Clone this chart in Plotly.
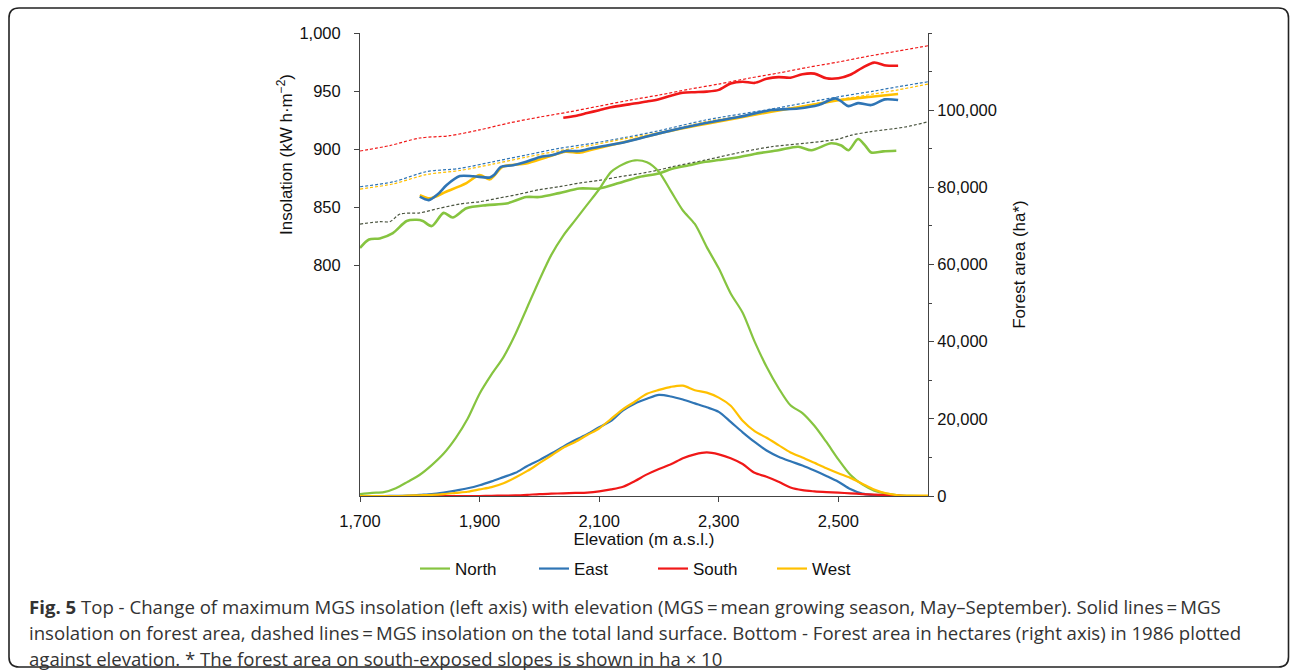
import plotly.graph_objects as go

# ---------------- data ----------------
# Insolation (left axis), solid = forest area, dashed = total land surface
north_ins_x = [1700, 1715, 1733, 1755, 1778, 1795, 1805, 1820, 1840, 1855, 1878, 1912, 1945, 1978, 2000,
               2033, 2067, 2100, 2133, 2167, 2200, 2222, 2250, 2278, 2300, 2333, 2362, 2400, 2433, 2455,
               2488, 2505, 2517, 2533, 2545, 2555, 2575, 2597]
north_ins_y = [814.7, 822, 823, 827.6, 838, 839, 838, 833.6, 845, 841, 849, 851.7, 853, 858.6, 858.6,
               862, 866, 866, 870.7, 876, 879, 883, 886, 889, 890.5, 893, 896, 899, 902, 899,
               905, 903, 899, 908.6, 903, 897, 898, 898.5]

east_ins_x = [1800, 1815, 1830, 1845, 1867, 1890, 1917, 1925, 1935, 1956, 1978, 2000, 2022, 2044, 2067,
              2089, 2144, 2200, 2278, 2333, 2388, 2433, 2467, 2495, 2505, 2517, 2533, 2555, 2578, 2600]
east_ins_y = [858.9, 856, 861, 869, 876.7, 876.5, 875.5, 878, 884.5, 886, 889, 893, 894.8, 898.3, 898.3,
              900.9, 906, 913.5, 922.4, 927.6, 933.6, 935, 938, 943.7, 941, 937, 939.6, 937.9, 942.8, 942.2]

south_ins_x = [2040, 2060, 2080, 2100, 2120, 2150, 2180, 2200, 2220, 2240, 2260, 2280, 2300, 2320, 2340,
               2360, 2380, 2400, 2420, 2440, 2460, 2480, 2500, 2520, 2540, 2560, 2580, 2600]
south_ins_y = [927, 928.5, 931, 933.5, 936, 938.5, 941, 943, 946, 948.5, 949, 949.5, 951, 956.5, 958,
               957, 960.5, 962, 961.5, 964.5, 965, 961, 961, 964, 970, 974.5, 972, 971.8]

west_ins_x = [1800, 1817, 1844, 1878, 1900, 1917, 1939, 1978, 2011, 2044, 2067, 2089, 2144, 2200, 2278,
              2388, 2450, 2500, 2555, 2600]
west_ins_y = [860.3, 857.5, 863.2, 870.7, 877.6, 873.9, 884.8, 887.6, 892.8, 897.7, 896.8, 899.7, 906.3,
              913.5, 921.6, 932.2, 937.5, 942, 945.1, 947.4]

north_tot_x = [1700, 1733, 1750, 1767, 1800, 1833, 1867, 1900, 1933, 1967, 2000, 2033, 2067, 2100, 2133,
               2167, 2200, 2222, 2278, 2333, 2388, 2445, 2500, 2522, 2555, 2612, 2650]
north_tot_y = [835.3, 837.4, 837.4, 844, 845, 849, 852.6, 854.6, 857.8, 861.2, 865, 867.5, 870.7, 873, 876,
               878.7, 882, 884.7, 890.5, 896.8, 902, 905, 908.6, 912, 915, 919, 923.5]

east_tot_x = [1700, 1756, 1811, 1867, 1922, 1978, 2033, 2089, 2144, 2200, 2278, 2388, 2500, 2560, 2600, 2650]
east_tot_y = [867.5, 871.8, 880.5, 883.3, 889, 894.8, 900.6, 904.9, 910, 915.8, 925, 934.5, 945, 950,
              953.7, 958]

south_tot_x = [1700, 1750, 1800, 1850, 1900, 1950, 2000, 2050, 2100, 2150, 2200, 2250, 2300, 2350, 2400,
               2450, 2500, 2550, 2600, 2650]
south_tot_y = [898.3, 903, 909.5, 911.5, 916.5, 922.5, 927.5, 932, 937, 942, 946.5, 951.5, 956, 961,
               965.5, 970.5, 975, 980, 984.5, 989]

west_tot_x = [1700, 1756, 1811, 1867, 1922, 1978, 2033, 2089, 2144, 2200, 2278, 2388, 2500, 2560, 2600, 2650]
west_tot_y = [865.5, 870, 878, 881.5, 887, 893, 898.5, 903.5, 909, 914, 923.5, 932.5, 942.5, 947.5, 951, 956]

# Forest area (right axis), ha (south in ha x 10)
area_x = [1700, 1720, 1740, 1760, 1780, 1800, 1820, 1840, 1860, 1880, 1900, 1920, 1940, 1960, 1980,
          2000, 2020, 2040, 2060, 2080, 2100, 2120, 2140, 2160, 2180, 2200, 2220, 2240, 2260, 2280,
          2300, 2320, 2340, 2360, 2380, 2400, 2420, 2440, 2460, 2480, 2500, 2520, 2540, 2560, 2580,
          2600, 2620, 2640, 2650]
north_area = [500, 800, 1000, 2000, 3700, 5500, 8000, 11000, 15000, 20000, 26500, 31500, 36000, 42000, 49000,
              56000, 62500, 67500, 71500, 75500, 79500, 84000, 86000, 87000, 86500, 84000, 79000, 74000, 70500, 64500,
              59000, 52500, 47500, 40000, 33500, 28000, 23500, 21500, 18200, 14000, 9500, 5500, 3000, 1400, 600,
              200, 50, 0, 0]
east_area = [0, 0, 0, 50, 100, 300, 500, 900, 1400, 2000, 2800, 3800, 4900, 6000, 7800,
             9300, 11000, 12800, 14500, 16000, 17800, 19500, 22200, 24000, 25200, 26200, 25800, 25000, 24000, 23000,
             21800, 19200, 16500, 14000, 11800, 10200, 9000, 7900, 6600, 5200, 3700, 1800, 600, 200, 50,
             0, 0, 0, 0]
south_area = [0, 0, 0, 0, 0, 0, 0, 0, 0, 0, 0, 50, 100, 150, 300,
              500, 600, 700, 800, 900, 1200, 1700, 2400, 3900, 5600, 7000, 8200, 9800, 10800, 11300,
              10800, 9800, 8300, 6000, 5000, 3700, 2200, 1500, 1200, 1000, 850, 700, 500, 350, 200,
              100, 0, 0, 0]
west_area = [0, 0, 0, 0, 100, 200, 300, 500, 800, 1100, 1700, 2300, 3300, 4800, 6500,
             8500, 10500, 12500, 14000, 15800, 17500, 20000, 22500, 24500, 26500, 27500, 28300, 28600, 27400, 26800,
             25500, 23400, 19500, 16800, 15100, 13200, 11300, 10000, 8600, 7200, 5900, 4700, 3200, 1700, 700,
             200, 100, 100, 100]

x_ticks = [1700, 1900, 2100, 2300, 2500]
x_labels = ["1,700", "1,900", "2,100", "2,300", "2,500"]
y_ticks = [800, 850, 900, 950, 1000]
y_labels = ["800", "850", "900", "950", "1,000"]
y2_ticks = [0, 20000, 40000, 60000, 80000, 100000]
y2_labels = ["0", "20,000", "40,000", "60,000", "80,000", "100,000"]

names = ["North", "East", "South", "West"]
colors = {"North": "#86C440", "East": "#2F75B5", "South": "#F01818", "West": "#FFC000"}
dash_colors = {"North": "#4B5540", "East": "#2F75B5", "South": "#F01818", "West": "#FFC000"}

caption_lines = [
    "<b>Fig. 5</b> Top - Change of maximum MGS insolation (left axis) with elevation (MGS\u2009=\u2009mean growing season, May\u2013September). Solid lines\u2009=\u2009MGS",
    "insolation on forest area, dashed lines\u2009=\u2009MGS insolation on the total land surface. Bottom - Forest area in hectares (right axis) in 1986 plotted",
    "against elevation. * The forest area on south-exposed slopes is shown in ha \u00d7 10",
]

# ---------------- layout geometry (pixels) ----------------
W, H = 1290, 672
L, R, T, B = 360, 928, 33, 496


def px(x):
    return (x - L) / (R - L)


def py(y):
    return (B - y) / (B - T)


fig = go.Figure()

tot = {"North": (north_tot_x, north_tot_y), "East": (east_tot_x, east_tot_y),
       "South": (south_tot_x, south_tot_y), "West": (west_tot_x, west_tot_y)}
ins = {"North": (north_ins_x, north_ins_y), "East": (east_ins_x, east_ins_y),
       "South": (south_ins_x, south_ins_y), "West": (west_ins_x, west_ins_y)}
area = {"North": north_area, "East": east_area, "South": south_area, "West": west_area}

for n in ["South", "East", "West", "North"]:
    xs, ys = tot[n]
    fig.add_trace(go.Scatter(x=xs, y=ys, mode="lines", showlegend=False,
                             line=dict(color=dash_colors[n], width=1.2, dash="3px,2px", shape="spline", smoothing=0.8),
                             hoverinfo="skip"))

for n in names:
    fig.add_trace(go.Scatter(x=area_x, y=area[n], mode="lines", name=n, yaxis="y2", legendgroup=n,
                             line=dict(color=colors[n], width=2.2, shape="spline", smoothing=0.8)))

for n in ["North", "West", "East", "South"]:
    xs, ys = ins[n]
    fig.add_trace(go.Scatter(x=xs, y=ys, mode="lines", showlegend=False, legendgroup=n,
                             line=dict(color=colors[n], width=2.6, shape="spline", smoothing=0.8)))

axis_font = dict(family="Liberation Sans, Arial, sans-serif", size=16.5, color="#111")

fig.update_layout(
    width=W, height=H,
    margin=dict(l=L, r=W - R, t=T, b=H - B, pad=0),
    paper_bgcolor="white", plot_bgcolor="white",
    font=dict(family="Liberation Sans, Arial, sans-serif", size=17, color="#111"),
    xaxis=dict(range=[1700, 2650], tickvals=x_ticks, ticktext=x_labels, showgrid=False, zeroline=False,
               showline=True, linecolor="#444", linewidth=1, ticks="outside", ticklen=5, tickcolor="#444",
               tickfont=axis_font, ticklabelstandoff=5,
               title=dict(text="Elevation (m a.s.l.)", font=dict(size=17, color="#111"), standoff=4)),
    yaxis=dict(range=[601, 1000], tickvals=y_ticks, ticktext=y_labels, showgrid=False, zeroline=False,
               showline=True, linecolor="#444", linewidth=1, ticks="outside", ticklen=5, tickcolor="#444",
               tickfont=axis_font, ticklabelstandoff=10),
    yaxis2=dict(range=[0, 120000], overlaying="y", side="right", tickvals=y2_ticks, ticktext=y2_labels,
                tickprefix="\u2007", showgrid=False, zeroline=False, showline=True, linecolor="#444", linewidth=1,
                ticks="outside", ticklen=5, tickcolor="#444", tickfont=axis_font,
                minor=dict(dtick=10000, ticks="outside", ticklen=3, tickcolor="#444", showgrid=False),
                title=dict(text="Forest area (ha*)", font=dict(size=17, color="#111"), standoff=17)),
    legend=dict(orientation="h", x=px(415), y=py(569), xanchor="left", yanchor="middle",
                font=dict(size=17, color="#111"), entrywidth=74, entrywidthmode="pixels",
                bgcolor="rgba(0,0,0,0)"),
    showlegend=True,
)

# left axis title
fig.add_annotation(text="Insolation (kW h\u00b7m<sup>\u22122</sup>)", textangle=-90, x=px(285), y=py(155),
                   xref="paper", yref="paper", showarrow=False, font=dict(size=17, color="#111"),
                   xanchor="center", yanchor="middle")

# caption
cap_y = [606, 632, 658]
for txt, yy in zip(caption_lines, cap_y):
    fig.add_annotation(text=txt, x=px(27), y=py(yy), xref="paper", yref="paper", showarrow=False,
                       xanchor="left", yanchor="middle", align="left",
                       font=dict(family="Open Sans, Noto Sans, sans-serif", size=18.6, color="#333"))

# rounded frame
x0, y0, x1, y1, r = 9, 8, 1288.5, 667, 10
path = (f"M {px(x0)},{py(y0 + r)} Q {px(x0)},{py(y0)} {px(x0 + r)},{py(y0)} "
        f"L {px(x1 - r)},{py(y0)} Q {px(x1)},{py(y0)} {px(x1)},{py(y0 + r)} "
        f"L {px(x1)},{py(y1 - r)} Q {px(x1)},{py(y1)} {px(x1 - r)},{py(y1)} "
        f"L {px(x0 + r)},{py(y1)} Q {px(x0)},{py(y1)} {px(x0)},{py(y1 - r)} Z")
fig.add_shape(type="path", path=path, xref="paper", yref="paper", line=dict(color="#222", width=1.6),
              fillcolor="rgba(0,0,0,0)", layer="below")

fig.write_html("out.html")
